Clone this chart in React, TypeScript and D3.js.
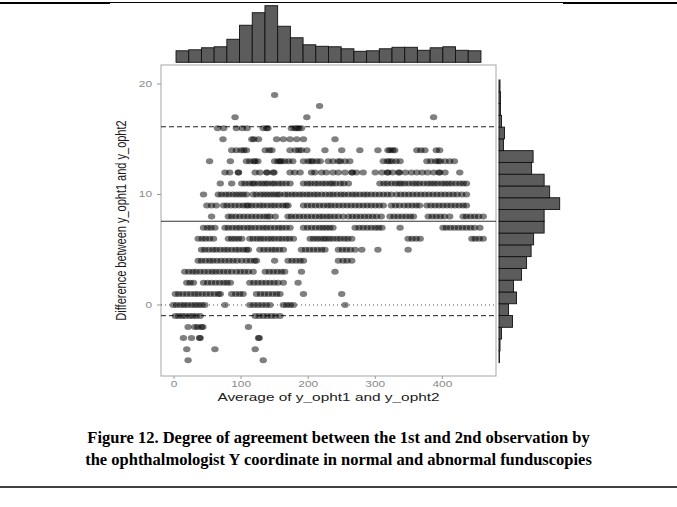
import React from 'react';
import * as d3 from 'd3';

const W = 677;
const H = 507;

// Bland–Altman scatter: for each (integer) difference, the averages observed at it
const avgAtDiff19 = [150];
const avgAtDiff18 = [217];
const avgAtDiff17 = [91, 198, 387];
const avgAtDiff16 = [65, 74, 93, 102, 109, 133, 138, 140, 175, 180, 183, 186, 190];
const avgAtDiff15 = [73, 116, 119, 126, 153, 163, 173, 183, 193, 240];
const avgAtDiff14 = [86, 93, 100, 104, 108, 136, 142, 146, 173, 181, 186, 190, 198, 225, 250, 277, 304, 319, 322, 326, 329, 362, 368, 374, 391, 396];
const avgAtDiff13 = [53, 84, 108, 113, 119, 121, 125, 150, 155, 158, 160, 165, 171, 177, 193, 200, 204, 207, 213, 218, 230, 237, 245, 248, 255, 262, 312, 318, 321, 325, 331, 337, 377, 383, 390, 394, 397, 404, 411, 418];
const avgAtDiff12 = [76, 83, 96, 96, 121, 128, 138, 139, 148, 149, 173, 180, 188, 205, 210, 220, 227, 237, 245, 255, 265, 266, 272, 282, 300, 310, 318, 319, 326, 335, 336, 345, 354, 362, 370, 378, 387, 395, 396, 404, 426];
const avgAtDiff11 = [69, 86, 101, 106, 112, 117, 120, 126, 131, 136, 140, 146, 150, 156, 161, 167, 173, 193, 199, 204, 210, 215, 221, 226, 232, 236, 241, 248, 253, 260, 307, 313, 318, 324, 330, 335, 339, 344, 350, 356, 361, 366, 372, 378, 383, 388, 393, 399, 404, 409, 414, 420, 426, 431, 436];
const avgAtDiff10 = [44, 66, 71, 77, 82, 88, 93, 98, 103, 108, 118, 123, 129, 134, 139, 144, 149, 154, 158, 165, 170, 176, 181, 187, 192, 198, 203, 209, 214, 220, 226, 232, 237, 243, 249, 254, 260, 266, 271, 277, 283, 288, 294, 300, 306, 312, 318, 324, 332, 338, 344, 350, 356, 362, 368, 374, 380, 386, 392, 398, 404, 410, 416, 422, 429, 436];
const avgAtDiff9 = [49, 56, 63, 74, 79, 85, 91, 97, 103, 108, 111, 116, 122, 128, 133, 139, 145, 150, 156, 162, 167, 170, 193, 199, 205, 211, 217, 223, 229, 234, 240, 246, 252, 258, 264, 270, 276, 282, 288, 294, 300, 306, 312, 324, 330, 336, 343, 349, 355, 361, 366, 377, 383, 389, 395, 401, 407, 413, 419, 425, 431, 436];
const avgAtDiff8 = [56, 81, 86, 92, 98, 104, 110, 116, 122, 128, 134, 139, 143, 151, 170, 175, 181, 187, 193, 199, 205, 211, 217, 222, 228, 233, 239, 245, 252, 260, 266, 272, 278, 284, 290, 296, 302, 309, 322, 328, 334, 340, 346, 352, 357, 379, 385, 391, 397, 403, 411, 431, 436, 442, 448, 454, 461];
const avgAtDiff7 = [44, 50, 55, 61, 76, 81, 87, 93, 98, 104, 110, 115, 121, 127, 133, 138, 144, 150, 156, 161, 167, 173, 193, 199, 205, 211, 217, 222, 227, 232, 237, 270, 276, 282, 288, 294, 300, 305, 310, 337, 401, 406, 412, 418, 424, 430, 436, 442, 448, 456];
const avgAtDiff6 = [36, 42, 47, 53, 59, 81, 86, 91, 96, 101, 113, 118, 124, 129, 134, 140, 145, 150, 156, 161, 167, 172, 178, 203, 208, 213, 218, 223, 227, 232, 237, 243, 248, 254, 259, 265, 349, 355, 361, 367, 444, 449, 455, 461];
const avgAtDiff5 = [41, 46, 52, 58, 63, 69, 75, 80, 86, 92, 97, 103, 108, 111, 128, 134, 140, 146, 151, 157, 163, 190, 196, 202, 208, 214, 220, 225, 245, 251, 257, 263, 270, 280, 304, 349];
const avgAtDiff4 = [36, 41, 47, 53, 58, 64, 70, 76, 82, 88, 94, 101, 108, 114, 120, 123, 150, 170, 176, 182, 188, 193, 245, 252, 258, 265];
const avgAtDiff3 = [16, 22, 28, 33, 39, 45, 51, 57, 62, 68, 74, 80, 86, 93, 99, 105, 111, 118, 136, 142, 148, 154, 160, 165, 190, 240];
const avgAtDiff2 = [19, 24, 29, 44, 50, 56, 62, 68, 74, 79, 84, 113, 119, 125, 131, 137, 143, 149, 155, 163, 185];
const avgAtDiff1 = [2, 7, 13, 19, 25, 31, 36, 42, 48, 54, 60, 66, 69, 86, 92, 98, 103, 123, 129, 135, 141, 147, 153, 158, 193, 250];
const avgAtDiff0 = [-1, 4, 10, 15, 20, 26, 31, 36, 41, 46, 76, 113, 119, 125, 131, 137, 143, 163, 168, 173, 178, 255];
const avgAtDiffM1 = [2, 7, 12, 17, 23, 28, 33, 39, 121, 127, 133, 139, 145, 151, 158];
const avgAtDiffM2 = [21, 31, 35, 41, 43, 111];
const avgAtDiffM3 = [14, 26, 38, 39, 126, 127];
const avgAtDiffM4 = [19, 61, 121];
const avgAtDiffM5 = [21, 133];

const diffRows: [number, number[]][] = [
  [19, avgAtDiff19], [18, avgAtDiff18], [17, avgAtDiff17], [16, avgAtDiff16],
  [15, avgAtDiff15], [14, avgAtDiff14], [13, avgAtDiff13], [12, avgAtDiff12],
  [11, avgAtDiff11], [10, avgAtDiff10], [9, avgAtDiff9], [8, avgAtDiff8],
  [7, avgAtDiff7], [6, avgAtDiff6], [5, avgAtDiff5], [4, avgAtDiff4],
  [3, avgAtDiff3], [2, avgAtDiff2], [1, avgAtDiff1], [0, avgAtDiff0],
  [-1, avgAtDiffM1], [-2, avgAtDiffM2], [-3, avgAtDiffM3], [-4, avgAtDiffM4],
  [-5, avgAtDiffM5],
];

// Mean difference and 95% limits of agreement
const meanDiff = 7.58;
const loaUpper = 16.13;
const loaLower = -0.97;

// Marginal histogram of the averages (top)
const avgBinStart = 3.0;
const avgBinWidth = 18.94;
const avgBinCounts = [23, 25, 29, 31, 46, 74, 99, 113, 72, 49, 35, 32, 31, 27, 22, 23, 27, 30, 30, 24, 29, 31, 24, 23];

// Marginal histogram of the differences (right), lowest bin first
const diffBinStart = -5.22;
const diffBinWidth = 1.066;
const diffBinCounts = [1, 2, 5, 27, 19, 35, 29, 45, 55, 64, 69, 90, 90, 121, 101, 90, 65, 68, 9, 11, 5, 3, 3, 2];

const xTicks = [0, 100, 200, 300, 400];
const yTicks = [0, 10, 20];

const xTitle = 'Average of y_opht1 and y_opht2';
const yTitle = 'Difference between y_opht1 and y_opht2';
const captionLines = [
  'Figure 12. Degree of agreement between the 1st and 2nd observation by',
  'the ophthalmologist Y coordinate in normal and abnormal funduscopies',
];

const panel = { left: 161, top: 65, right: 496, bottom: 376 };
const SX = 1.4; // horizontal stretch of the embedded graphic's lettering
const SANS = '"Liberation Sans", Arial, sans-serif';

export default function App() {
  const x = d3.scaleLinear().domain([-19.4, 480]).range([panel.left, panel.right]);
  const y = d3.scaleLinear().domain([-6.43, 21.72]).range([panel.bottom, panel.top]);

  const topCount = d3.scaleLinear().domain([0, 118.6]).range([62.3, 2.9]);
  const rightCount = d3.scaleLinear().domain([0, 127]).range([499, 562.7]);

  const points = diffRows.flatMap(([d, xs]) => xs.map((a) => ({ a, d })));

  const stretchedText = (
    tx: number,
    ty: number,
    s: string,
    props: Record<string, any>,
    rotate = false,
  ) => (
    <text
      transform={`translate(${tx},${ty}) ${rotate ? `scale(${SX},1) rotate(-90)` : `scale(${SX},1)`}`}
      {...props}
    >
      {s}
    </text>
  );

  return (
    <svg
      width={W}
      height={H}
      style={{ position: 'absolute', left: 0, top: 0, background: '#fff' }}
    >
      {/* rules framing the figure */}
      <line x1={0} x2={110} y1={3} y2={3} stroke="#000" strokeWidth={2} />
      <line x1={110} x2={563} y1={2.5} y2={2.5} stroke="#000" strokeWidth={1} />
      <line x1={563} x2={W} y1={3} y2={3} stroke="#000" strokeWidth={2} />
      <line x1={0} x2={W} y1={487} y2={487} stroke="#000" strokeWidth={1.5} />

      {/* top marginal histogram */}
      <g>
        {avgBinCounts.map((c, i) => {
          const x0 = x(avgBinStart + i * avgBinWidth);
          const x1 = x(avgBinStart + (i + 1) * avgBinWidth);
          return (
            <rect
              key={i}
              x={x0}
              y={topCount(c)}
              width={x1 - x0}
              height={topCount(0) - topCount(c)}
              fill="#5c5c5c"
              stroke="#111"
              strokeWidth={0.9}
            />
          );
        })}
      </g>

      {/* right marginal histogram */}
      <g>
        {diffBinCounts.map((c, i) => {
          const y0 = y(diffBinStart + i * diffBinWidth);
          const y1 = y(diffBinStart + (i + 1) * diffBinWidth);
          return (
            <rect
              key={i}
              x={rightCount(0)}
              y={y1}
              width={rightCount(c) - rightCount(0)}
              height={y0 - y1}
              fill="#5c5c5c"
              stroke="#111"
              strokeWidth={0.9}
            />
          );
        })}
      </g>

      {/* panel */}
      <rect
        x={panel.left}
        y={panel.top}
        width={panel.right - panel.left}
        height={panel.bottom - panel.top}
        fill="#fff"
        stroke="#a6a6a6"
        strokeWidth={1}
      />

      {/* reference lines */}
      <line x1={panel.left} x2={panel.right} y1={y(0)} y2={y(0)} stroke="#555" strokeWidth={1} strokeDasharray="1 3" />
      <line x1={panel.left} x2={panel.right} y1={y(loaUpper)} y2={y(loaUpper)} stroke="#222" strokeWidth={1} strokeDasharray="5 3" />
      <line x1={panel.left} x2={panel.right} y1={y(loaLower)} y2={y(loaLower)} stroke="#222" strokeWidth={1} strokeDasharray="5 3" />
      <line x1={panel.left} x2={panel.right} y1={y(meanDiff)} y2={y(meanDiff)} stroke="#333" strokeWidth={1.1} />

      {/* points */}
      <g>
        {points.map((p, i) => (
          <ellipse key={i} cx={x(p.a)} cy={y(p.d)} rx={3.7} ry={3} fill="#000" fillOpacity={0.5} />
        ))}
      </g>

      {/* x axis */}
      <g>
        {xTicks.map((t) => (
          <g key={t}>
            <line x1={x(t)} x2={x(t)} y1={panel.bottom} y2={panel.bottom + 3} stroke="#999" />
            {stretchedText(x(t), panel.bottom + 11, String(t), {
              textAnchor: 'middle',
              fontFamily: SANS,
              fontSize: 8.5,
              fill: '#8a8a8a',
            })}
          </g>
        ))}
        {stretchedText((panel.left + panel.right) / 2, 401, xTitle, {
          textAnchor: 'middle',
          fontFamily: SANS,
          fontSize: 11,
          fill: '#1a1a1a',
        })}
      </g>

      {/* y axis */}
      <g>
        {yTicks.map((t) => (
          <g key={t}>
            <line x1={panel.left - 4} x2={panel.left} y1={y(t)} y2={y(t)} stroke="#999" />
            {stretchedText(panel.left - 9, y(t) + 3, String(t), {
              textAnchor: 'end',
              fontFamily: SANS,
              fontSize: 8.5,
              fill: '#8a8a8a',
            })}
          </g>
        ))}
        {stretchedText(126, (panel.top + panel.bottom) / 2, yTitle, {
          textAnchor: 'middle',
          fontFamily: SANS,
          fontSize: 11,
          fill: '#1a1a1a',
        }, true)}
      </g>

      {/* caption */}
      {captionLines.map((line, i) => (
        <text
          key={i}
          x={338.5}
          y={443 + i * 22}
          textAnchor="middle"
          fontFamily='"Liberation Serif", "Times New Roman", serif'
          fontWeight="bold"
          fontSize={16.5}
          fill="#000"
        >
          {line}
        </text>
      ))}
    </svg>
  );
}
